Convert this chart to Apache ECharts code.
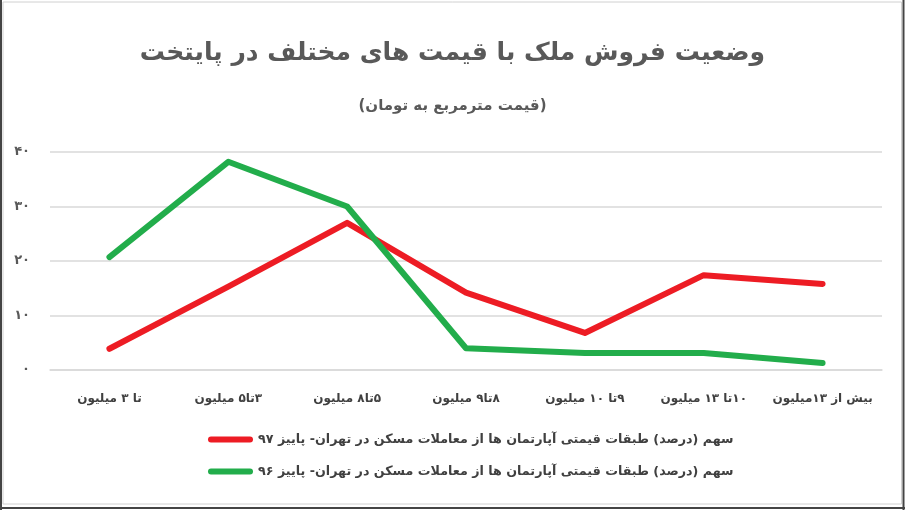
<!DOCTYPE html>
<html>
<head>
<meta charset="utf-8">
<script src="https://cdn.jsdelivr.net/npm/echarts@6/dist/echarts.min.js"></script>
<style>
html,body{margin:0;padding:0;background:#fff;}
#c{width:905px;height:510px;}
</style>
</head>
<body>
<div id="c"></div>
<script>
// ---- data ----
const categories = ['تا ۳ میلیون','۳تا۵ میلیون','۵تا۸ میلیون','۸تا۹ میلیون','۹تا ۱۰ میلیون','۱۰تا ۱۳ میلیون','بیش از ۱۳میلیون'];
const seriesNames = ['سهم (درصد) طبقات قیمتی آپارتمان ها از معاملات مسکن در تهران- پاییز ۹۷',
                     'سهم (درصد) طبقات قیمتی آپارتمان ها از معاملات مسکن در تهران- پاییز ۹۶'];
const values97 = [3.9, 15.3, 27.0, 14.2, 6.8, 17.4, 15.8];
const values96 = [20.7, 38.2, 30.0, 4.0, 3.1, 3.1, 1.3];
const yTicks = [0, 10, 20, 30, 40];
const titleText = 'وضعیت فروش ملک با قیمت های مختلف در پایتخت';
const subtitleText = '(قیمت مترمربع به تومان)';

const RLM = '\u200F'; // right-to-left paragraph for labels that begin with a digit
const faDigits = '۰۱۲۳۴۵۶۷۸۹';
function fa(n){ return String(n).replace(/[0-9]/g, d => faDigits[+d]); }

const FONT = '"DejaVu Sans", sans-serif';
const chart = echarts.init(document.getElementById('c'));
chart.setOption({
  animation: false,
  backgroundColor: '#fff',
  title: [{
    text: titleText, left: 'center', top: 36,
    textStyle: {fontFamily: FONT, fontSize: 25, fontWeight: 'bold', color: '#595959'}
  },{
    text: subtitleText, left: 'center', top: 94,
    textStyle: {fontFamily: FONT, fontSize: 15, fontWeight: 'bold', color: '#595959'}
  }],
  grid: {left: 50, right: 23, top: 152, bottom: 140},
  legend: {
    orient: 'vertical', left: 203, top: 428, itemGap: 19,
    itemWidth: 45, itemHeight: 7,
    icon: 'path://M3,0 H42 A3,3 0 0 1 42,6 H3 A3,3 0 0 1 3,0 Z',
    textStyle: {fontFamily: FONT, fontSize: 12.7, fontWeight: 'bold', color: '#404040'},
    data: seriesNames
  },
  xAxis: {
    type: 'category', data: categories, boundaryGap: true,
    axisLine: {show: true, lineStyle: {color: '#d9d9d9', width: 1.5}},
    axisTick: {show: false},
    axisLabel: {interval: 0, margin: 23, fontFamily: FONT, fontSize: 12, fontWeight: 'bold', color: '#404040',
                formatter: v => RLM + v + RLM}
  },
  yAxis: {
    type: 'value', min: yTicks[0], max: yTicks[yTicks.length-1], interval: 10,
    axisLine: {show: false}, axisTick: {show: false},
    splitLine: {lineStyle: {color: '#d9d9d9', width: 1.5}},
    axisLabel: {margin: 20, fontFamily: FONT, fontSize: 13, fontWeight: 'bold', color: '#595959', formatter: v => fa(v)}
  },
  series: [{
    name: seriesNames[0], type: 'line', data: values97, showSymbol: false, symbol: 'none',
    itemStyle: {color: '#ED1C24'},
    lineStyle: {color: '#ED1C24', width: 6, cap: 'round', join: 'round'}
  },{
    name: seriesNames[1], type: 'line', data: values96, showSymbol: false, symbol: 'none',
    itemStyle: {color: '#22AD4B'},
    lineStyle: {color: '#22AD4B', width: 6, cap: 'round', join: 'round'}
  }],
  graphic: [
    {type: 'rect', shape: {x: 3, y: 2, width: 898.5, height: 502}, style: {fill: 'none', stroke: '#d0d0d0', lineWidth: 1}, silent: true},
    {type: 'line', shape: {x1: 1, y1: 0, x2: 1, y2: 510}, style: {stroke: '#444', lineWidth: 2}, silent: true},
    {type: 'line', shape: {x1: 903.5, y1: 0, x2: 903.5, y2: 510}, style: {stroke: '#444', lineWidth: 2}, silent: true},
    {type: 'line', shape: {x1: 0, y1: 508, x2: 905, y2: 508}, style: {stroke: '#444', lineWidth: 2}, silent: true}
  ]
});
</script>
</body>
</html>
